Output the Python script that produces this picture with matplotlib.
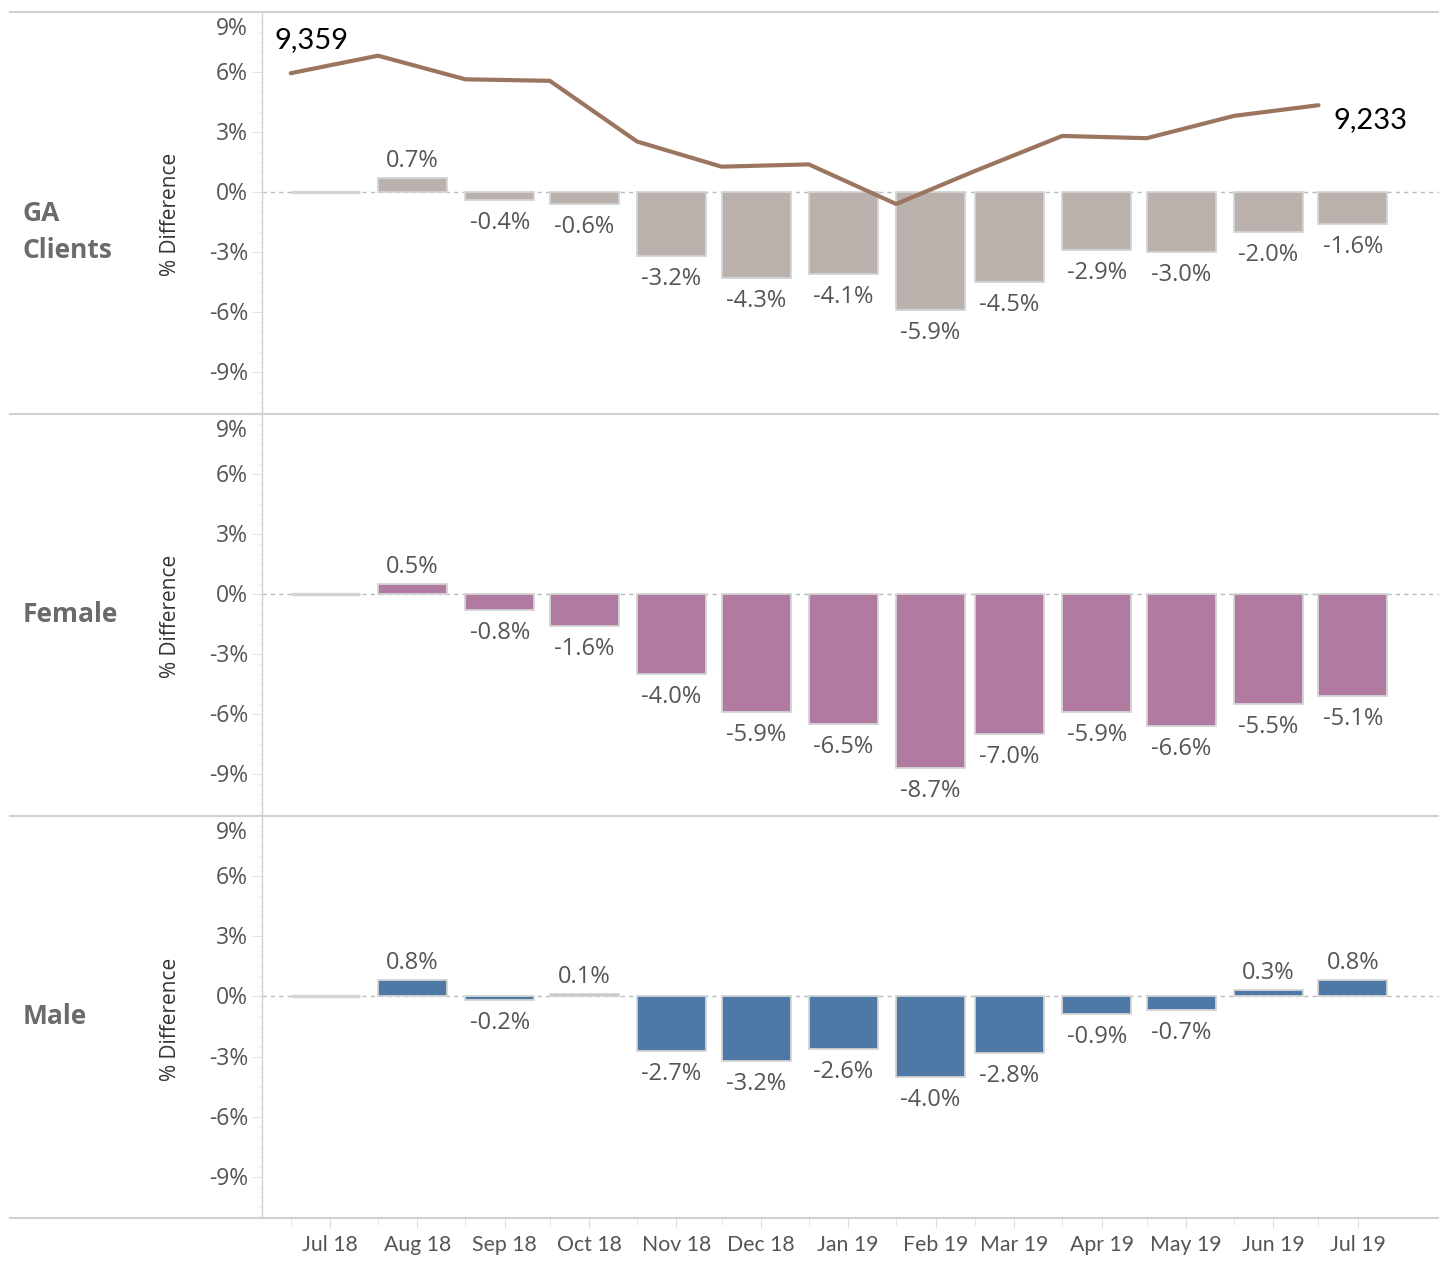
import matplotlib
matplotlib.use("Agg")
import matplotlib.pyplot as plt
import matplotlib.dates as mdates
from matplotlib.lines import Line2D
import pandas as pd
import numpy as np

# ---------------- data ----------------
months = ["Jul 18", "Aug 18", "Sep 18", "Oct 18", "Nov 18", "Dec 18", "Jan 19",
          "Feb 19", "Mar 19", "Apr 19", "May 19", "Jun 19", "Jul 19"]
month_start = ["2018-07-01", "2018-08-01", "2018-09-01", "2018-10-01", "2018-11-01",
               "2018-12-01", "2019-01-01", "2019-02-01", "2019-03-01", "2019-04-01",
               "2019-05-01", "2019-06-01", "2019-07-01"]
ga_pct = [0.0, 0.7, -0.4, -0.6, -3.2, -4.3, -4.1, -5.9, -4.5, -2.9, -3.0, -2.0, -1.6]
female_pct = [0.0, 0.5, -0.8, -1.6, -4.0, -5.9, -6.5, -8.7, -7.0, -5.9, -6.6, -5.5, -5.1]
male_pct = [0.0, 0.8, -0.2, 0.1, -2.7, -3.2, -2.6, -4.0, -2.8, -0.9, -0.7, 0.3, 0.8]
ga_clients = [9359, 9428, 9335, 9329, 9090, 8991, 9000, 8844, 8974, 9112, 9103, 9191, 9233]
row_labels = ["GA\nClients", "Female", "Male"]
yticks = [-9, -6, -3, 0, 3, 6, 9]

# ---------------- style ----------------
W, H = 1439, 1265
DPI = 100
FONT = ["Open Sans", "DejaVu Sans"]
FONT2 = ["Lato", "DejaVu Sans"]
plt.rcParams["font.family"] = FONT

colors = ["#bab0ac", "#b07aa1", "#4e79a7"]
edge = "#d4d4d4"
line_color = "#9c7560"
grid_gray = "#d0d0d0"
label_gray = "#555555"

fig = plt.figure(figsize=(W / DPI, H / DPI), dpi=DPI)

dates = mdates.date2num(pd.to_datetime(month_start).to_pydatetime())
mid = dates + 14
x0 = dates[0]
xlim = (x0 - 10.2, x0 + 407.8)

left_px, right_px = 262, 1439
panels_px = [(12, 413), (414, 815), (816, 1218)]
series = [ga_pct, female_pct, male_pct]

axes = []
for i, ((top, bot), vals) in enumerate(zip(panels_px, series)):
    ax = fig.add_axes([left_px / W, 1 - bot / H, (right_px - left_px) / W, (bot - top) / H])
    axes.append(ax)
    ax.set_xlim(*xlim)
    ax.set_ylim(-11.05, 9)
    for s in ["top", "right", "bottom"]:
        ax.spines[s].set_visible(False)
    ax.spines["left"].set_color(grid_gray)
    ax.spines["left"].set_linewidth(1)
    ax.axhline(0, color="#bbbbbb", lw=1, ls=(0, (3, 3)), zorder=1)

    # bars
    bcols = [colors[i]] * len(vals)
    bcols[0] = "#d4d4d4"
    lws = [2.4] + [1.3] * (len(vals) - 1)
    ax.bar(dates, vals, width=24.5, align="edge", color=bcols,
           edgecolor=edge, linewidth=lws, zorder=2)
    for j, v in enumerate(vals):
        if j == 0:
            continue
        off = 17 if v >= 0 else -23
        ax.annotate(f"{v:.1f}%", xy=(dates[j] + 12.25, v), xytext=(0, off),
                    textcoords="offset pixels", ha="center", va="center",
                    fontsize=17, color=label_gray, family=FONT)

    # y ticks
    ax.set_yticks(yticks)
    ax.set_yticks(np.arange(-11, 9.01, 0.5), minor=True)
    ax.tick_params(axis="y", which="major", length=7, color="#e2e2e2", labelleft=False)
    ax.tick_params(axis="y", which="minor", length=3, color="#eeeeee")
    for t in yticks:
        dy = -17 if t == 9 else -2
        ax.annotate(f"{t}%", xy=(0, t), xycoords=ax.get_yaxis_transform(),
                    xytext=(-14, dy), textcoords="offset pixels",
                    ha="right", va="center", fontsize=16.5, color=label_gray, family=FONT)

    # x ticks
    ax.set_xticks(mid)
    ax.set_xticks(dates, minor=True)
    if i == 2:
        ax.set_xticklabels(months, fontsize=15.3, color=label_gray, family=FONT2)
        ax.tick_params(axis="x", which="major", length=7, color="#dddddd", pad=5)
        ax.tick_params(axis="x", which="minor", length=5, color="#dddddd")
    else:
        ax.tick_params(axis="x", which="both", length=0, labelbottom=False)

    # row header and axis title
    cy = 1 - ((top + bot) / 2) / H
    if i == 0:
        fig.text(23 / W, 1 - 232 / H, row_labels[i], ha="left", va="center",
                 fontsize=19, fontweight="bold", color="#6b6b6b", linespacing=1.5)
    else:
        fig.text(23 / W, cy, row_labels[i], ha="left", va="center",
                 fontsize=19, fontweight="bold", color="#6b6b6b")
    fig.text(170 / W, cy - 2 / H, "% Difference", rotation=90, ha="center", va="center",
             fontsize=15, color="#333333")

# line on top panel (secondary hidden axis)
ax2 = axes[0].twinx()
ax2.set_ylim(8021, 9600)
ax2.set_xlim(*xlim)
ax2.axis("off")
ax2.plot(dates, ga_clients, color=line_color, lw=3, solid_capstyle="round",
         solid_joinstyle="round", zorder=3)
ax2.annotate(f"{ga_clients[0]:,}", xy=(dates[0], ga_clients[0]), xytext=(-16, 33),
             textcoords="offset pixels", ha="left", va="center", fontsize=21,
             color="black", family=FONT2)
ax2.annotate(f"{ga_clients[-1]:,}", xy=(dates[-1], ga_clients[-1]), xytext=(15, -15),
             textcoords="offset pixels", ha="left", va="center", fontsize=21,
             color="black", family=FONT2)

# panel separators
for y in [12, 413.5, 815.5, 1218]:
    fig.add_artist(Line2D([10 / W, 1], [1 - y / H, 1 - y / H], color=grid_gray,
                          lw=1.5, transform=fig.transFigure))

fig.savefig("out.png", dpi=DPI, facecolor="white")
